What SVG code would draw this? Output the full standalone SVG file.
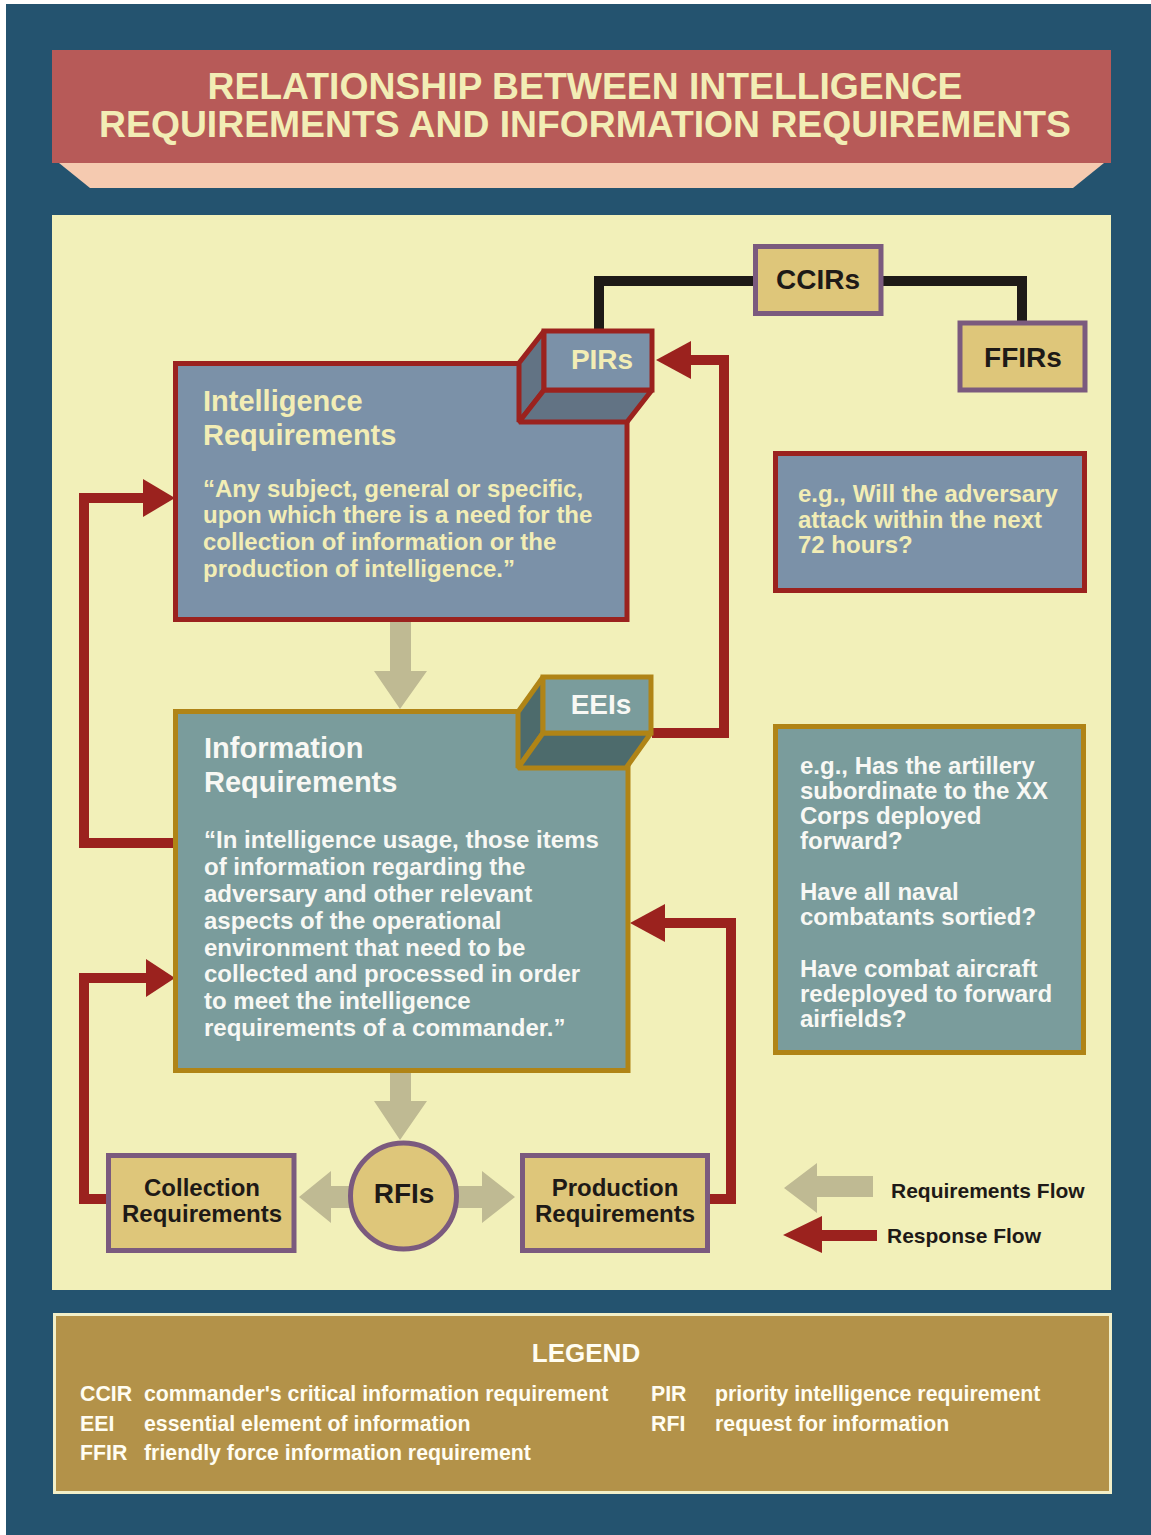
<svg xmlns="http://www.w3.org/2000/svg" width="1151" height="1535" viewBox="0 0 1151 1535">
<style>
text{font-family:"Liberation Sans",Arial,sans-serif;font-weight:bold}
.title{font-size:37.3px;fill:#F2EDB5;text-anchor:middle}
.lbl{font-size:28px;fill:#1E1A17;text-anchor:middle}
.lblc{font-size:28px;fill:#F2EDB5;text-anchor:middle}
.lblw{font-size:28px;fill:#F8F8F4;text-anchor:middle}
.hdc{font-size:29px;fill:#F2EDB5}
.hdw{font-size:29px;fill:#F8F8F4}
.qc{font-size:24px;fill:#F2EDB5}
.qw{font-size:24px;fill:#F8F8F4}
.small{font-size:24px;fill:#1E1A17;text-anchor:middle}
.lg{font-size:21px;fill:#1E1A17}
.leg{font-size:21.3px;fill:#FFFDF2}
.red{fill:none;stroke:#9B221E;stroke-width:10;stroke-linejoin:miter}
.blk{fill:none;stroke:#1E1A17;stroke-width:10;stroke-linejoin:miter}
.redhead{fill:#9B221E}
.gray{fill:#BFBA93}
.tan{fill:#DEC67A;stroke:#7B5A7E;stroke-width:5}
.bluebox{fill:#7B91A8;stroke:#9B221E;stroke-width:5;stroke-linejoin:miter}
.bluedark{fill:#627384;stroke:#9B221E;stroke-width:5;stroke-linejoin:bevel}
.tealbox{fill:#7A9C9C;stroke:#B08416;stroke-width:5;stroke-linejoin:miter}
.tealdark{fill:#4D6B6C;stroke:#B08416;stroke-width:5;stroke-linejoin:bevel}
</style>
<rect x="0" y="0" width="1151" height="1535" fill="#FFFFFF"/>
<rect x="6" y="4" width="1145" height="1531" fill="#24536F"/>
<g id="title">
<polygon points="59,163 1104,163 1073,188 90,188" fill="#F5CAB0"/>
<rect x="52" y="50" width="1059" height="113" fill="#B75A58"/>
<text class="title" x="585" y="99">RELATIONSHIP BETWEEN INTELLIGENCE</text>
<text class="title" x="585" y="137">REQUIREMENTS AND INFORMATION REQUIREMENTS</text>
</g>
<rect x="52" y="215" width="1059" height="1075" fill="#F2F0B9"/>
<g id="connectors">
<polyline class="blk" points="599,333 599,281 756,281"/>
<polyline class="blk" points="880,281 1022,281 1022,324"/>
<polyline class="red" points="175,843 84,843 84,498 146,498"/>
<polygon class="redhead" points="143,479 175,498 143,517"/>
<polyline class="red" points="108,1199 84,1199 84,978 148,978"/>
<polygon class="redhead" points="146,959 175,978 146,997"/>
<polyline class="red" points="708,1199 731,1199 731,923 663,923"/>
<polygon class="redhead" points="665,904 630,923 665,942"/>
<polyline class="red" points="652,733 724,733 724,360 689,360"/>
<polygon class="redhead" points="691,341 656,360 691,379"/>
<polygon class="gray" points="390,621 411,621 411,671 427,671 400,709 374,671 390,671"/>
<polygon class="gray" points="390,1073 411,1073 411,1101 427,1101 400,1140 374,1101 390,1101"/>
<polygon class="gray" points="350,1186 331,1186 331,1171 299,1197 331,1223 331,1208 350,1208"/>
<polygon class="gray" points="457,1186 482,1186 482,1171 515,1197 482,1223 482,1208 457,1208"/>
</g>
<g id="ccirs">
<rect class="tan" x="755.5" y="246.5" width="125.5" height="67"/>
<text class="lbl" x="818" y="289">CCIRs</text>
</g>
<g id="ffirs">
<rect class="tan" x="960" y="323" width="125" height="67"/>
<text class="lbl" x="1023" y="367">FFIRs</text>
</g>
<g id="intelligence-requirements">
<rect class="bluebox" x="175.5" y="363.5" width="451.5" height="256"/>
<text class="hdc" x="203" y="411">Intelligence</text>
<text class="hdc" x="203" y="445">Requirements</text>
<text class="qc" x="203" y="497">“Any subject, general or specific,</text>
<text class="qc" x="203" y="523">upon which there is a need for the</text>
<text class="qc" x="203" y="550">collection of information or the</text>
<text class="qc" x="203" y="577">production of intelligence.”</text>
</g>
<g id="pirs">
<polygon class="bluedark" points="544,331 519,363 519,422 544,390"/>
<polygon class="bluedark" points="544,390 652,390 627,422 519,422"/>
<rect class="bluebox" x="544" y="331" width="108" height="59"/>
<text class="lblc" x="602" y="369">PIRs</text>
</g>
<g id="information-requirements">
<rect class="tealbox" x="175.5" y="711.5" width="452.5" height="359"/>
<text class="hdw" x="204" y="758">Information</text>
<text class="hdw" x="204" y="792">Requirements</text>
<text class="qw" x="204" y="848">“In intelligence usage, those items</text>
<text class="qw" x="204" y="875">of information regarding the</text>
<text class="qw" x="204" y="902">adversary and other relevant</text>
<text class="qw" x="204" y="929">aspects of the operational</text>
<text class="qw" x="204" y="956">environment that need to be</text>
<text class="qw" x="204" y="982">collected and processed in order</text>
<text class="qw" x="204" y="1009">to meet the intelligence</text>
<text class="qw" x="204" y="1036">requirements of a commander.”</text>
</g>
<g id="eeis">
<polygon class="tealdark" points="543,677 518,712 518,768 543,733"/>
<polygon class="tealdark" points="543,733 651,733 626,768 518,768"/>
<rect class="tealbox" x="543" y="677" width="108" height="56"/>
<text class="lblw" x="601" y="714">EEIs</text>
</g>
<g id="pir-example">
<rect class="bluebox" x="775.5" y="453.5" width="309" height="137"/>
<text class="qc" x="798" y="502">e.g., Will the adversary</text>
<text class="qc" x="798" y="528">attack within the next</text>
<text class="qc" x="798" y="553">72 hours?</text>
</g>
<g id="eei-example">
<rect class="tealbox" x="775.5" y="726.5" width="308" height="326"/>
<text class="qw" x="800" y="774">e.g., Has the artillery</text>
<text class="qw" x="800" y="799">subordinate to the XX</text>
<text class="qw" x="800" y="824">Corps deployed</text>
<text class="qw" x="800" y="849">forward?</text>
<text class="qw" x="800" y="900">Have all naval</text>
<text class="qw" x="800" y="925">combatants sortied?</text>
<text class="qw" x="800" y="977">Have combat aircraft</text>
<text class="qw" x="800" y="1002">redeployed to forward</text>
<text class="qw" x="800" y="1027">airfields?</text>
</g>
<g id="collection-requirements">
<rect class="tan" x="108.5" y="1155.5" width="185.5" height="95"/>
<text class="small" x="202" y="1196">Collection</text>
<text class="small" x="202" y="1222">Requirements</text>
</g>
<g id="rfis">
<circle cx="403.5" cy="1196" r="53" fill="#DEC67A" stroke="#7B5A7E" stroke-width="5"/>
<text class="lbl" x="404" y="1203">RFIs</text>
</g>
<g id="production-requirements">
<rect class="tan" x="522.5" y="1155.5" width="185" height="95"/>
<text class="small" x="615" y="1196">Production</text>
<text class="small" x="615" y="1222">Requirements</text>
</g>
<g id="flow-key">
<polygon class="gray" points="873,1176 817,1176 817,1163 784,1188 817,1213 817,1197 873,1197"/>
<text class="lg" x="891" y="1198">Requirements Flow</text>
<polygon class="redhead" points="877,1230 822,1230 822,1216 783,1235 822,1253 822,1241 877,1241"/>
<text class="lg" x="887" y="1243">Response Flow</text>
</g>
<g id="legend">
<rect x="54.5" y="1314.5" width="1056" height="178" fill="#B39249" stroke="#F2EFC8" stroke-width="3"/>
<text class="leg" x="586" y="1362" text-anchor="middle" style="font-size:26px">LEGEND</text>
<text class="leg" x="80" y="1401">CCIR</text>
<text class="leg" x="144" y="1401">commander's critical information requirement</text>
<text class="leg" x="80" y="1431">EEI</text>
<text class="leg" x="144" y="1431">essential element of information</text>
<text class="leg" x="80" y="1460">FFIR</text>
<text class="leg" x="144" y="1460">friendly force information requirement</text>
<text class="leg" x="651" y="1401">PIR</text>
<text class="leg" x="715" y="1401">priority intelligence requirement</text>
<text class="leg" x="651" y="1431">RFI</text>
<text class="leg" x="715" y="1431">request for information</text>
</g>
</svg>
